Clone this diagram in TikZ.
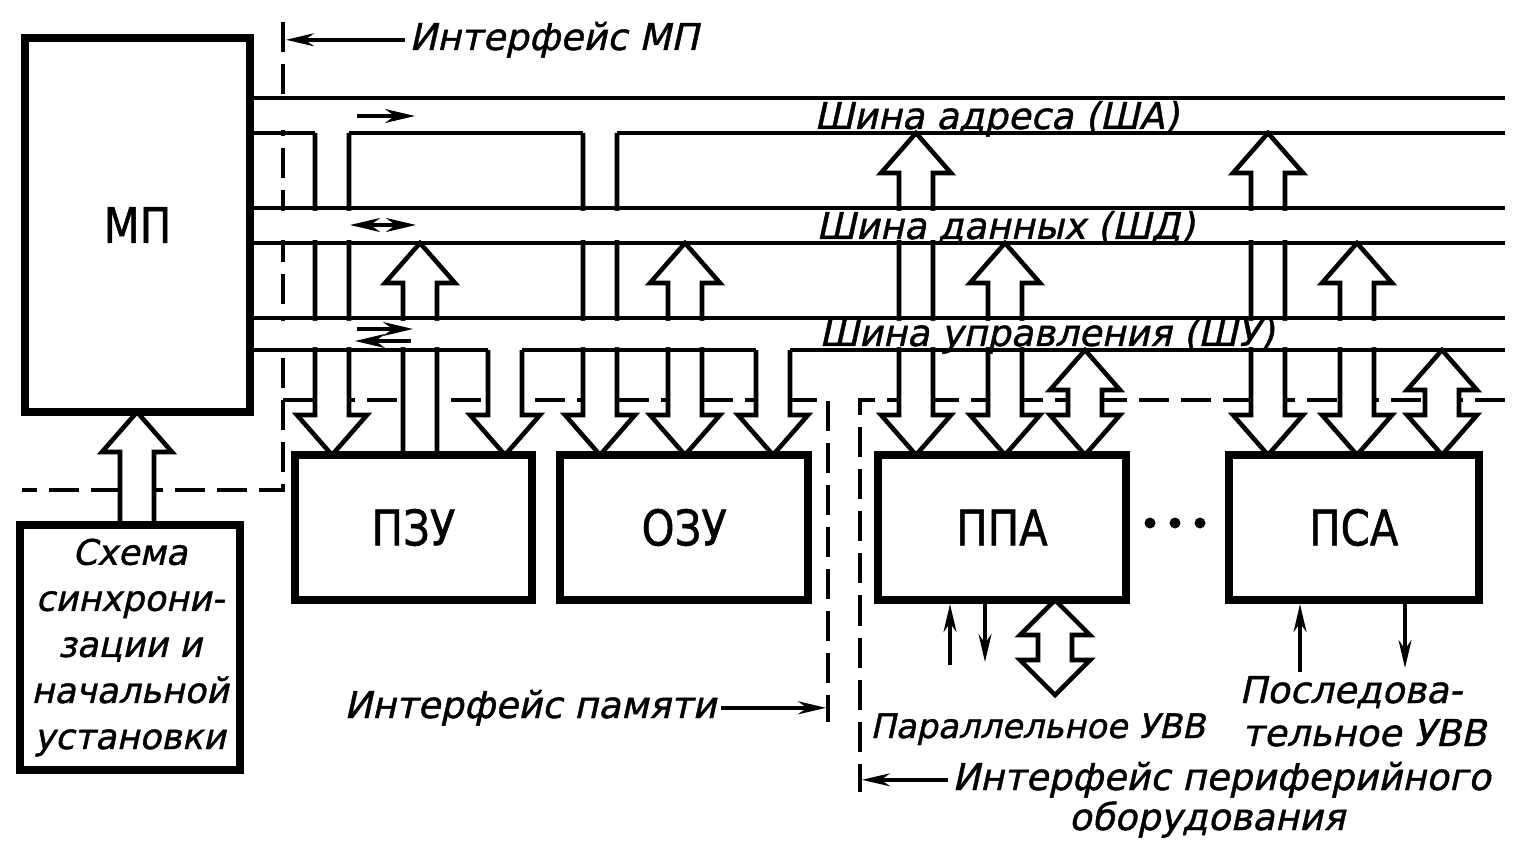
\documentclass[tikz,border=0pt]{standalone}
\usepackage{fontspec}
\setmainfont{DejaVu Sans}
\newfontfamily\itfont[FakeSlant=0.22, FakeBold=1.2]{DejaVu Sans}
\newfontfamily\blkfont[FakeStretch=0.85, FakeBold=1]{DejaVu Sans}
\usetikzlibrary{arrows.meta,positioning}

% wide bus arrows: centre x, then y values (picture is in px, y down)
\newcommand{\busdn}[3]{\filldraw[wide] ({#1-17},#2) -- ({#1-17},{#3-40}) -- ({#1-35},{#3-40}) -- (#1,#3)
  -- ({#1+35},{#3-40}) -- ({#1+17},{#3-40}) -- ({#1+17},#2);}
\newcommand{\busup}[3]{\filldraw[wide] ({#1-17},#3) -- ({#1-17},{#2+40}) -- ({#1-35},{#2+40}) -- (#1,#2)
  -- ({#1+35},{#2+40}) -- ({#1+17},{#2+40}) -- ({#1+17},#3);}
\newcommand{\busboth}[4]{\filldraw[wide] (#1,#2) -- ({#1+35},{#2+#4}) -- ({#1+17},{#2+#4}) -- ({#1+17},{#3-#4})
  -- ({#1+35},{#3-#4}) -- (#1,#3) -- ({#1-35},{#3-#4}) -- ({#1-17},{#3-#4})
  -- ({#1-17},{#2+#4}) -- ({#1-35},{#2+#4}) -- cycle;}

\begin{document}
\begin{tikzpicture}[x=0.01cm, y=-0.01cm,
box/.style={rectangle, draw, line width=2.3pt, fill=white, inner sep=0pt, minimum height=1.45cm, font=\blkfont\fontsize{14}{16}\selectfont},
lbl/.style={inner sep=1pt, font=\itfont\fontsize{10.5}{13}\selectfont},
bus/.style={line width=1.15pt},
wide/.style={fill=white, draw=black, line width=1.3pt, line join=miter},
iface/.style={line width=1pt, dash pattern=on 0.3cm off 0.12cm},
tharrow/.style={line width=1pt, -{Stealth[length=2.8mm, width=1.3mm]}},
smarrow/.style={line width=1.1pt, -{Stealth[length=3mm, width=1.4mm]}}]

\useasboundingbox (0,0) rectangle (1516,843);

\draw[iface] (283,22) -- (283,490) -- (22,490);
\draw[iface] (283,400) -- (828,400) -- (828,722);
\draw[iface] (1505,400) -- (860,400) -- (860,792);

% memory
\busdn{332}{133}{455}
\busup{420}{243}{455}
\busdn{505}{350}{455}
\busdn{600}{133}{455}
\busboth{685}{243}{455}{40}
\busdn{773}{350}{455}
% peripherals
\busboth{916}{133}{455}{40}
\busboth{1005}{243}{455}{40}
\busboth{1085}{350}{455}{40}
\busboth{1268}{133}{455}{40}
\busboth{1357}{243}{455}{40}
\busboth{1442}{350}{455}{40}
\busup{137}{412}{525}
\busboth{1055}{600}{695}{35}

\fill[white] (253,101) rectangle (1508,130) (253,211) rectangle (1508,240) (253,321) rectangle (1508,347);
\draw[bus] (250,98) -- (1505,98);
\draw[bus] (250,133) -- (315,133) (349,133) -- (583,133) (617,133) -- (1505,133);
\draw[bus] (250,208) -- (1505,208) (250,243) -- (1505,243) (250,318) -- (1505,318);
\draw[bus] (250,350) -- (488,350) (522,350) -- (756,350) (790,350) -- (1505,350);

\node[box, minimum width=2.25cm, minimum height=3.74cm] (mp) at (137.5,225) {МП};
\node[box, minimum width=2.37cm] (pzu) at (413.5,527.5) {ПЗУ};
\node[box, minimum width=2.48cm, right=0.2cm of pzu] (ozu) {ОЗУ};
\node[box, minimum width=2.47cm, right=0.62cm of ozu] (ppa) {ППА};
\node[box, minimum width=2.5cm, right=0.95cm of ppa] (psa) {ПСА};
\node[box, minimum width=2.2cm, minimum height=2.45cm, align=center,
  font=\itfont\fontsize{10}{13.1}\selectfont] (sync) at (130,647.5) {Схема\\синхрони-\\зации и\\начальной\\установки};
\fill (1150,523) circle[radius=0.055cm] (1175,523) circle[radius=0.055cm] (1200,523) circle[radius=0.055cm];

\draw[smarrow] (357,116) -- (415,116);
\draw[smarrow, {Stealth[length=3mm, width=1.4mm]}-{Stealth[length=3mm, width=1.4mm]}] (350,225) -- (416,225);
\draw[smarrow] (357,329) -- (413,329);
\draw[smarrow, {Stealth[length=3mm, width=1.4mm]}-] (355,341) -- (411,341);

\node[lbl, anchor=base west] (lsha) at (810,129) {Шина адреса (ША)};
\node[lbl, anchor=base west] (lshd) at (812,239) {Шина данных (ШД)};
\node[lbl, anchor=base west] (lshu) at (815,346) {Шина управления (ШУ)};

\node[lbl, anchor=base west] (ifmp) at (405,50) {Интерфейс МП};
\coordinate (ifmpx) at (286,0);
\draw[tharrow] (ifmp.west) -- (ifmp.west -| ifmpx);
\node[lbl, anchor=base west] (ifmem) at (340,718) {Интерфейс памяти};
\coordinate (ifmemx) at (826,0);
\draw[tharrow] (ifmem.east) -- (ifmem.east -| ifmemx);
\node[lbl, anchor=base west] (ifper) at (948,790) {Интерфейс периферийного};
\node[lbl, anchor=base] (ifper2) at (1207,830) {оборудования};
\coordinate (ifperx) at (862,0);
\draw[tharrow] (ifper.west) -- (ifper.west -| ifperx);

\node[lbl, anchor=base west, font=\itfont\fontsize{9.6}{12}\selectfont] (puvv) at (866,738) {Параллельное УВВ};
\node[lbl, anchor=base west] (suvv1) at (1235,703) {Последова-};
\node[lbl, anchor=base west] (suvv2) at (1238,746) {тельное УВВ};

\coordinate (pin) at (950,665);
\coordinate (pout) at (985,662);
\coordinate (sin) at (1300,672);
\coordinate (sout) at (1405,668);
\draw[tharrow] (pin) -- (pin |- ppa.south);
\draw[tharrow] (pout |- ppa.south) -- (pout);
\draw[tharrow] (sin) -- (sin |- psa.south);
\draw[tharrow] (sout |- psa.south) -- (sout);
\end{tikzpicture}
\end{document}
